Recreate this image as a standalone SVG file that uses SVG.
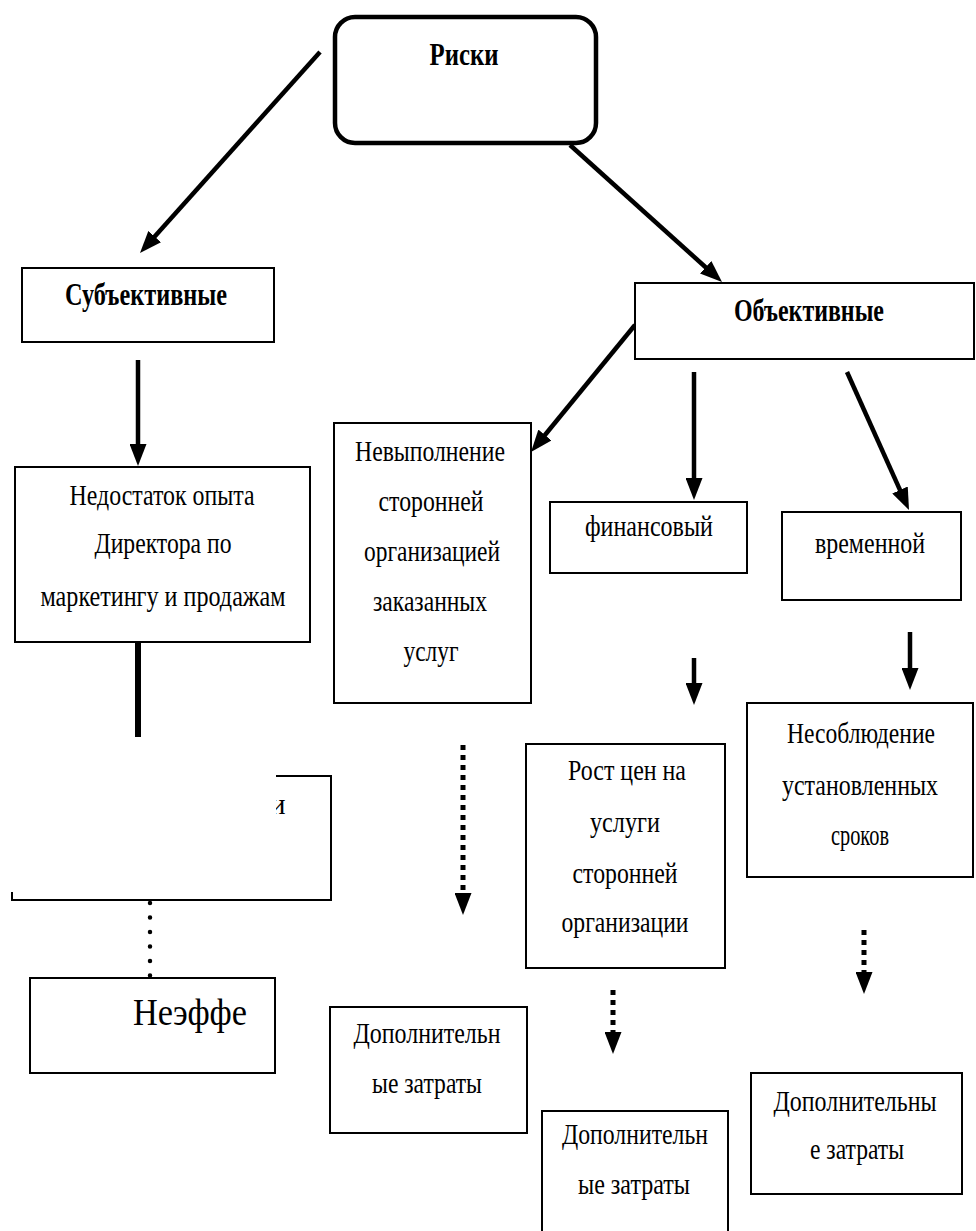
<svg xmlns="http://www.w3.org/2000/svg" width="976" height="1231" viewBox="0 0 976 1231">
<style>
.box{fill:#fff;stroke:#000;stroke-width:2}
.t{font-size:29px;text-anchor:middle;fill:#000}
.b{font-weight:bold;font-size:31px}
.ln{stroke:#000;stroke-width:4.5;fill:none}
.dash{stroke:#000;stroke-width:5;fill:none;stroke-dasharray:5 5}
.dot{stroke:#000;stroke-width:4.5;fill:none;stroke-dasharray:0 14.5;stroke-linecap:round}
</style>
<defs>
<marker id="ah" markerUnits="userSpaceOnUse" markerWidth="22" markerHeight="17" refX="10" refY="8.5" orient="auto">
<path d="M0,0 L22,8.5 L0,17 z" fill="#000"/>
</marker>
<marker id="dh" markerUnits="userSpaceOnUse" markerWidth="22" markerHeight="17" refX="0" refY="8.5" orient="auto">
<path d="M0,0 L22,8.5 L0,17 z" fill="#000"/>
</marker>
<clipPath id="clipFrag"><rect x="276" y="780" width="20" height="50"/></clipPath>
</defs>
<rect width="976" height="1231" fill="#fff"/>

<g id="connectors">
<line class="ln" x1="320" y1="52" x2="148" y2="244.1" marker-end="url(#ah)"/>
<line class="ln" x1="570" y1="145" x2="713.1" y2="274" marker-end="url(#ah)"/>
<line class="ln" x1="138" y1="360" x2="138" y2="454" marker-end="url(#ah)"/>
<line class="ln" x1="138" y1="642" x2="138" y2="737" style="stroke-width:6"/>
<line class="ln" x1="635" y1="325" x2="538.6" y2="442.7" marker-end="url(#ah)"/>
<line class="ln" x1="694" y1="372" x2="694" y2="488" marker-end="url(#ah)"/>
<line class="ln" x1="847" y1="372" x2="904.1" y2="499.1" marker-end="url(#ah)"/>
<line class="ln" x1="694" y1="658" x2="694" y2="693" marker-end="url(#ah)"/>
<line class="ln" x1="910" y1="632" x2="910" y2="678" marker-end="url(#ah)"/>
<line class="dash" x1="463" y1="745" x2="463" y2="893" marker-end="url(#dh)"/>
<line class="dash" x1="613" y1="990" x2="613" y2="1032" marker-end="url(#dh)"/>
<line class="dash" x1="864" y1="930" x2="864" y2="972" marker-end="url(#dh)"/>
<line class="dot" x1="150" y1="903" x2="150" y2="977"/>
</g>

<g font-family="Liberation Serif, serif">
<g id="riski">
<rect x="335" y="17" width="261" height="126" rx="20" ry="20" fill="#fff" stroke="#000" stroke-width="4.5"/>
<text class="t b" x="464" y="65" textLength="69" lengthAdjust="spacingAndGlyphs">Риски</text>
</g>

<g id="subjective">
<rect class="box" x="22" y="268" width="252" height="74"/>
<text class="t b" x="146" y="305" textLength="162" lengthAdjust="spacingAndGlyphs">Субъективные</text>
</g>

<g id="objective">
<rect class="box" x="635" y="283" width="339" height="76"/>
<text class="t b" x="809" y="321" textLength="150" lengthAdjust="spacingAndGlyphs">Объективные</text>
</g>

<g id="nedostatok">
<rect class="box" x="15" y="467" width="295" height="175"/>
<text class="t" x="162" y="505" textLength="185" lengthAdjust="spacingAndGlyphs">Недостаток опыта</text>
<text class="t" x="163" y="553" textLength="137" lengthAdjust="spacingAndGlyphs">Директора по</text>
<text class="t" x="163" y="606" textLength="245" lengthAdjust="spacingAndGlyphs">маркетингу и продажам</text>
</g>

<g id="nevypolnenie">
<rect class="box" x="334" y="423" width="197" height="280"/>
<text class="t" x="430" y="461" textLength="150" lengthAdjust="spacingAndGlyphs">Невыполнение</text>
<text class="t" x="431" y="511" textLength="105" lengthAdjust="spacingAndGlyphs">сторонней</text>
<text class="t" x="432" y="561" textLength="136" lengthAdjust="spacingAndGlyphs">организацией</text>
<text class="t" x="430" y="611" textLength="114" lengthAdjust="spacingAndGlyphs">заказанных</text>
<text class="t" x="431" y="661" textLength="55" lengthAdjust="spacingAndGlyphs">услуг</text>
</g>

<g id="finansovy">
<rect class="box" x="550" y="502" width="197" height="71"/>
<text class="t" x="649" y="536" textLength="128" lengthAdjust="spacingAndGlyphs">финансовый</text>
</g>

<g id="vremennoy">
<rect class="box" x="782" y="512" width="179" height="88"/>
<text class="t" x="870" y="553" textLength="110" lengthAdjust="spacingAndGlyphs">временной</text>
</g>

<g id="nesobljudenie">
<rect class="box" x="747" y="703" width="226" height="174"/>
<text class="t" x="861" y="743" textLength="148" lengthAdjust="spacingAndGlyphs">Несоблюдение</text>
<text class="t" x="860" y="795" textLength="156" lengthAdjust="spacingAndGlyphs">установленных</text>
<text class="t" x="860" y="845" textLength="58" lengthAdjust="spacingAndGlyphs">сроков</text>
</g>

<g id="rost">
<rect class="box" x="526" y="744" width="199" height="224"/>
<text class="t" x="627" y="780" textLength="118" lengthAdjust="spacingAndGlyphs">Рост цен на</text>
<text class="t" x="625" y="832" textLength="70" lengthAdjust="spacingAndGlyphs">услуги</text>
<text class="t" x="625" y="883" textLength="105" lengthAdjust="spacingAndGlyphs">сторонней</text>
<text class="t" x="625" y="932" textLength="127" lengthAdjust="spacingAndGlyphs">организации</text>
</g>

<g id="truncated">
<path d="M276,776 H331 V900 H12 V892" fill="none" stroke="#000" stroke-width="2"/>
<text class="t" x="270" y="814" style="text-anchor:start" clip-path="url(#clipFrag)">и</text>
</g>

<g id="neeffe">
<rect class="box" x="30" y="978" width="245" height="95"/>
<text class="t" x="190" y="1025" style="font-size:37px" textLength="114" lengthAdjust="spacingAndGlyphs">Неэффе</text>
</g>

<g id="dop1">
<rect class="box" x="330" y="1007" width="197" height="126"/>
<text class="t" x="427" y="1043" textLength="147" lengthAdjust="spacingAndGlyphs">Дополнительн</text>
<text class="t" x="427" y="1093" textLength="110" lengthAdjust="spacingAndGlyphs">ые затраты</text>
</g>

<g id="dop2">
<rect class="box" x="542" y="1111" width="186" height="140"/>
<text class="t" x="635" y="1144" textLength="146" lengthAdjust="spacingAndGlyphs">Дополнительн</text>
<text class="t" x="634" y="1194" textLength="112" lengthAdjust="spacingAndGlyphs">ые затраты</text>
</g>

<g id="dop3">
<rect class="box" x="751" y="1073" width="211" height="121"/>
<text class="t" x="855" y="1111" textLength="163" lengthAdjust="spacingAndGlyphs">Дополнительны</text>
<text class="t" x="857" y="1159" textLength="94" lengthAdjust="spacingAndGlyphs">е затраты</text>
</g>
</g>
</svg>
